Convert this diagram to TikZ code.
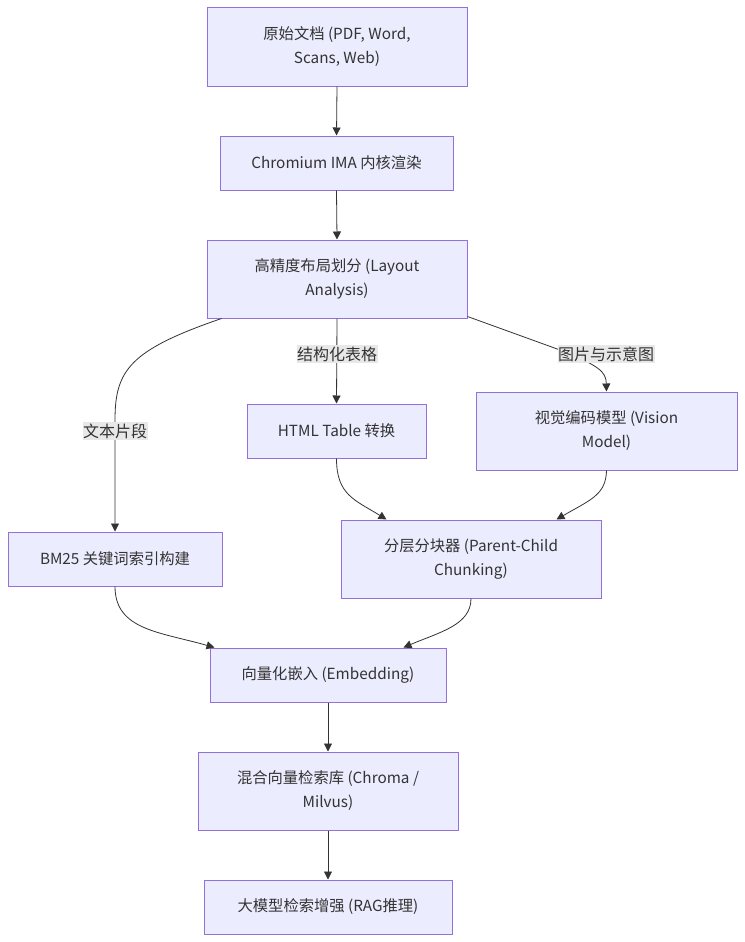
\documentclass[tikz,border=0pt]{standalone}
\usepackage{fontspec}
\setmainfont{Noto Sans CJK SC}
\usetikzlibrary{arrows.meta,calc}
\definecolor{nodefill}{HTML}{ECECFF}
\definecolor{nodeborder}{HTML}{9370DB}
\definecolor{edgecol}{HTML}{333333}
\definecolor{labelbg}{HTML}{E8E8E8}
\tikzset{
  x=1pt, y=-1pt,
  box/.style={draw=nodeborder, fill=nodefill, line width=1pt, align=center,
    text=edgecol, font=\fontsize{15.3}{24}\selectfont, inner sep=0pt},
  edge/.style={draw=edgecol, line width=0.8pt, -{Triangle[length=8pt,width=8pt]}},
  elabel/.style={fill=labelbg, text=edgecol, font=\fontsize{16}{20}\selectfont,
    inner xsep=0.5pt, inner ysep=2pt}
}
\begin{document}
\begin{tikzpicture}
\useasboundingbox (0,0) rectangle (744,942);
\fill[white] (0,0) rectangle (744,942);
\node[box, minimum width=260pt, minimum height=78pt] (n1) at (337,47) {原始文档 (PDF, Word,\\Scans, Web)};
\node[box, minimum width=233pt, minimum height=54pt] (n2) at (336.5,163) {Chromium IMA 内核渲染};
\node[box, minimum width=260pt, minimum height=78pt] (n3) at (337,279) {高精度布局划分 (Layout\\Analysis)};
\node[box, minimum width=179pt, minimum height=54pt] (n4) at (336.5,431) {HTML Table 转换};
\node[box, minimum width=261pt, minimum height=78pt] (n5) at (606.5,431) {视觉编码模型 (Vision\\Model)};
\node[box, minimum width=214pt, minimum height=54pt] (n6) at (115,559) {BM25 关键词索引构建};
\node[box, minimum width=260pt, minimum height=78pt] (n7) at (471,559) {分层分块器 (Parent-Child\\Chunking)};
\node[box, minimum width=236pt, minimum height=54pt] (n8) at (328,675) {向量化嵌入 (Embedding)};
\node[box, minimum width=260pt, minimum height=78pt] (n9) at (328,791) {混合向量检索库 (Chroma /\\Milvus)};
\node[box, minimum width=248pt, minimum height=54pt] (n10) at (328,907) {大模型检索增强 (RAG推理)};

\draw[edge] (n1.south) -- (n2.north);
\draw[edge] (n2.south) -- (n3.north);
\draw[edge] ($(n3.south west)+(15,0)$) .. controls (130,350) and (115,370) .. (115,420) -- (n6.north);
\draw[edge] (n3.south) -- (n4.north);
\draw[edge] ($(n3.south east)+(0,-2)$) -- (560,350) .. controls (600,366) and (606,372) .. (n5.north);
\draw[edge] (n4.south) .. controls (336.5,495) and (355,500) .. ($(n7.north west)+(46,0)$);
\draw[edge] (n5.south) .. controls (606,495) and (590,500) .. ($(n7.north east)+(-45,0)$);
\draw[edge] (n6.south) .. controls (115,630) and (160,632) .. ($(n8.north west)+(5,0)$);
\draw[edge] (n7.south) .. controls (471,625) and (440,632) .. ($(n8.north east)+(-43,0)$);
\draw[edge] (n8.south) -- (n9.north);
\draw[edge] (n9.south) -- (n10.north);

\node[elabel] (l1) at (115,431) {文本片段};
\node[elabel] (l2) at (337,354) {结构化表格};
\node[elabel] (l3) at (606,354) {图片与示意图};
\end{tikzpicture}
\end{document}
